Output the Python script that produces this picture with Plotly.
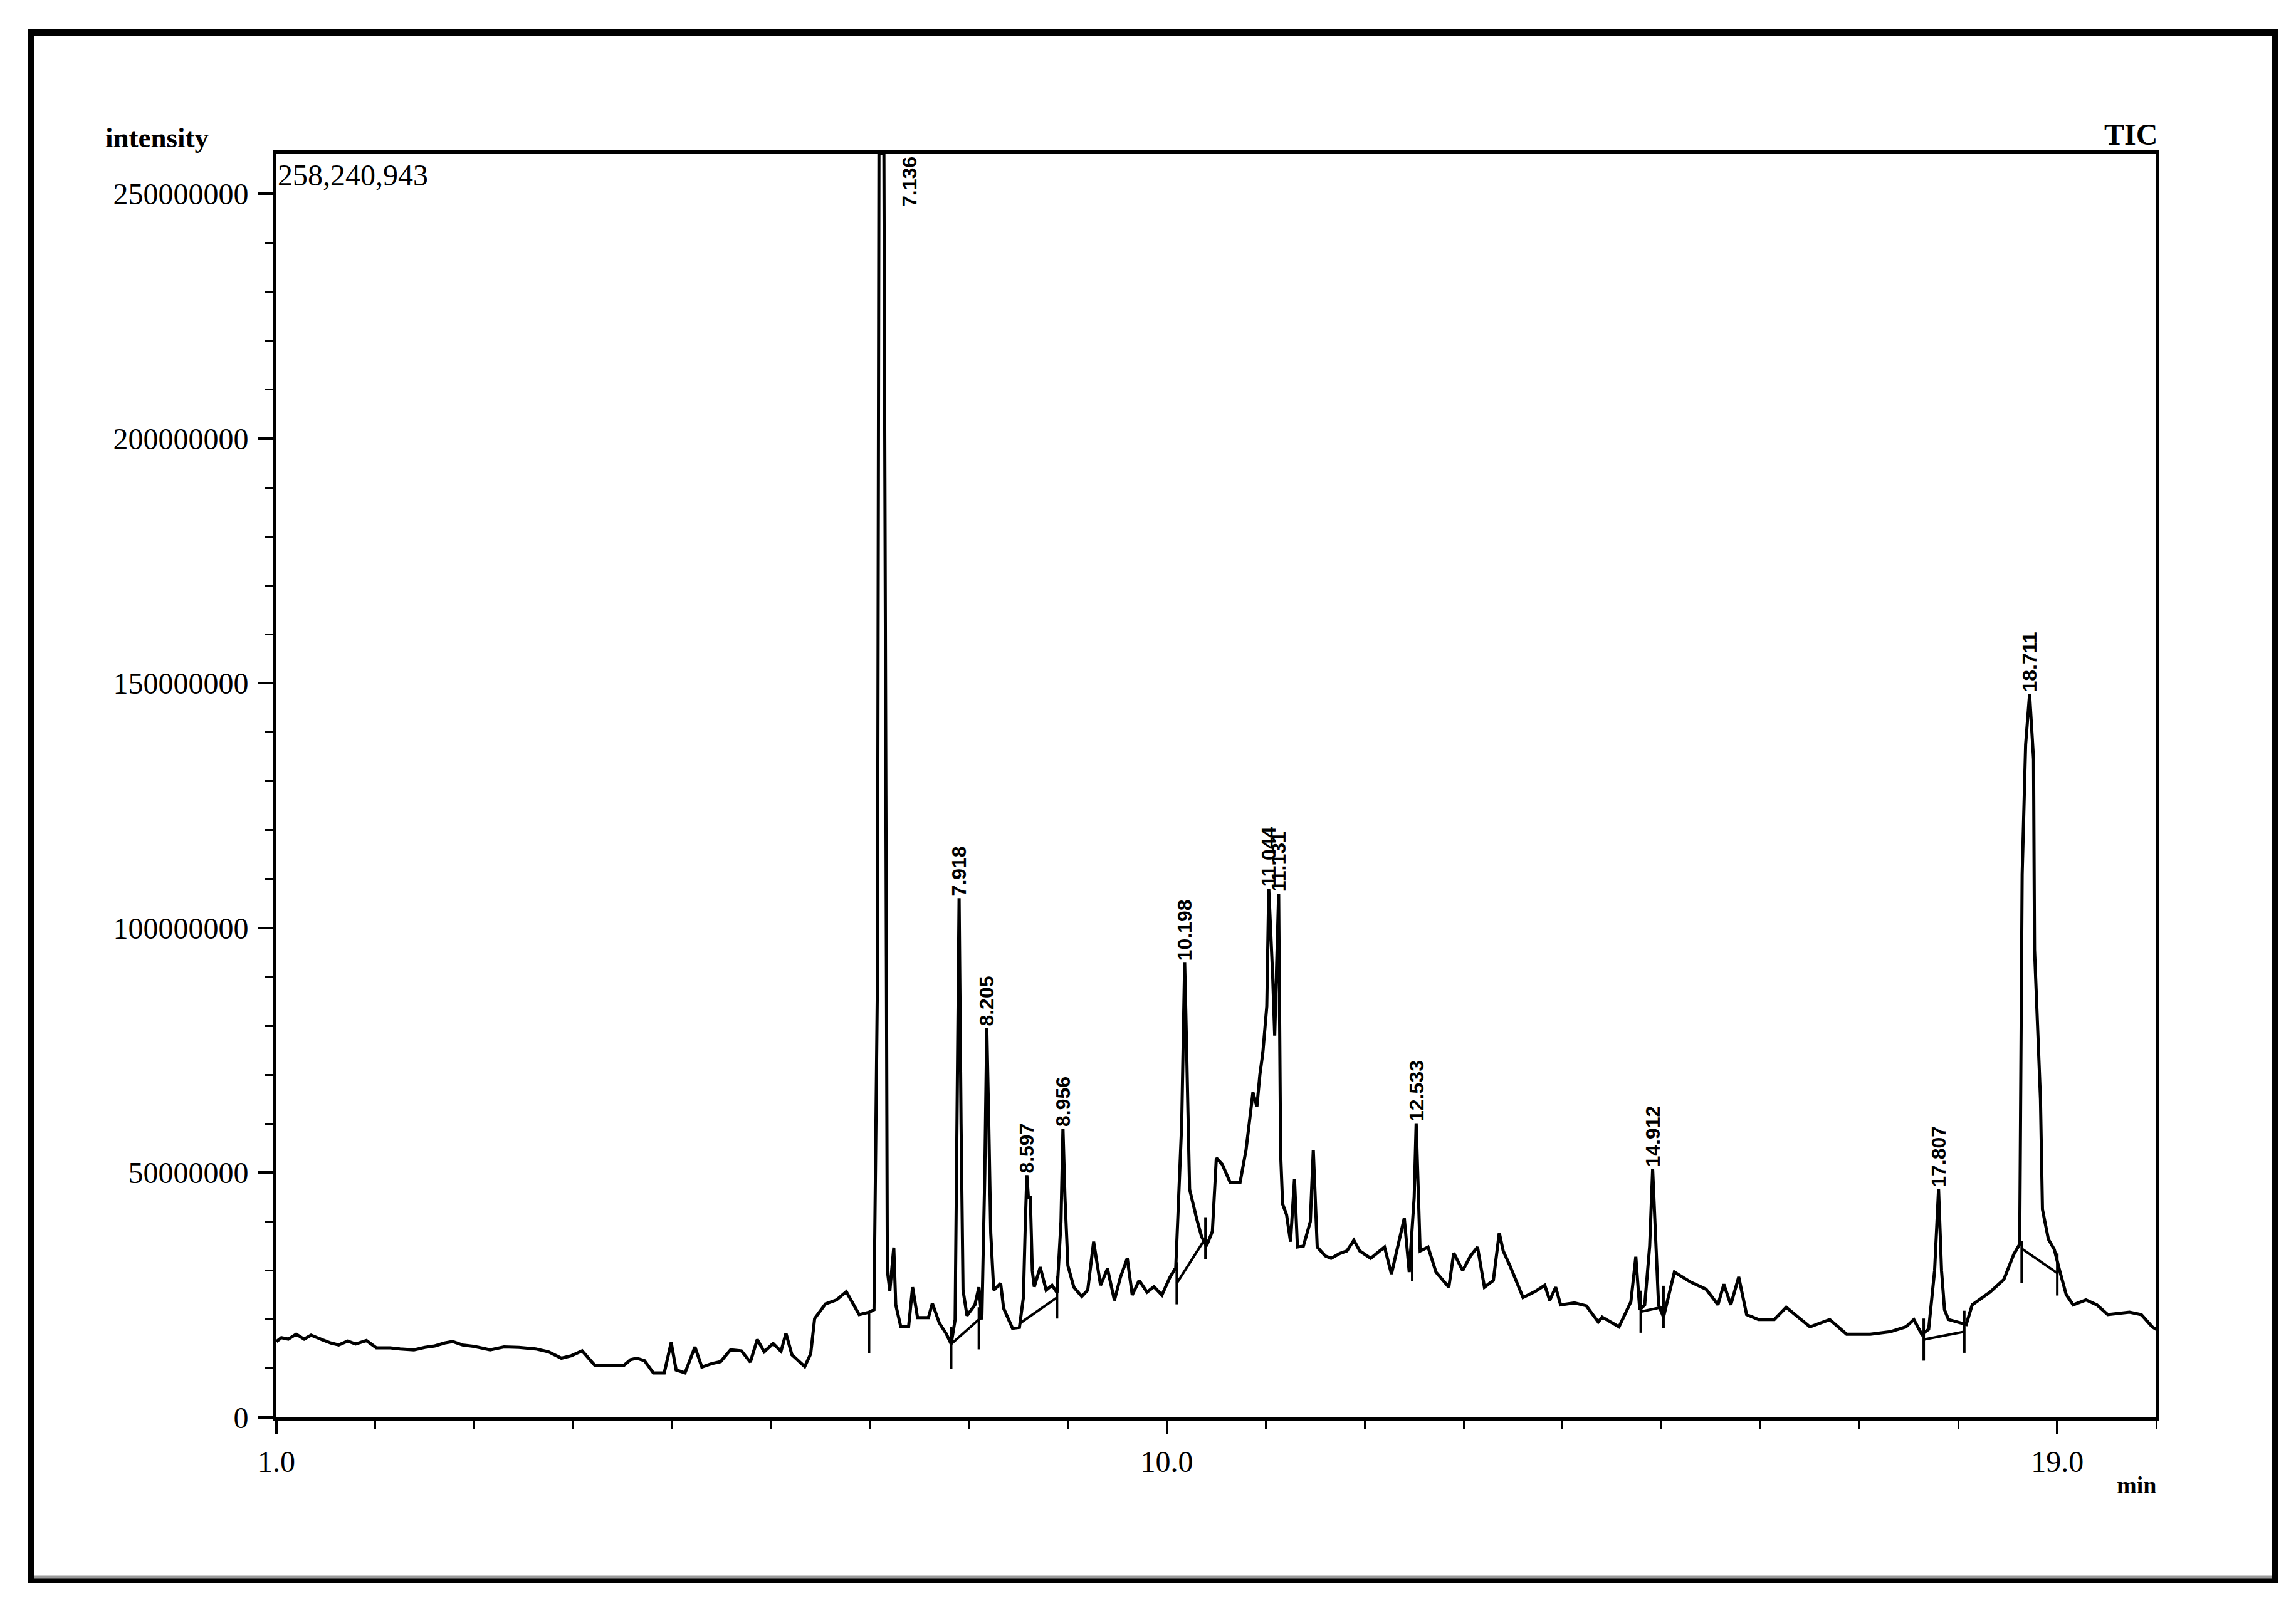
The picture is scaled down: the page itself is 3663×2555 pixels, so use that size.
import plotly.graph_objects as go

# ---------------- data ----------------
rt_min = [
    1.00, 1.05, 1.12, 1.20, 1.28, 1.35, 1.46, 1.55, 1.63, 1.72, 1.80, 1.91, 2.01, 2.15, 2.25, 2.39,
    2.50, 2.60, 2.70, 2.78, 2.88, 3.00, 3.16, 3.30, 3.45, 3.62, 3.75, 3.88, 3.98, 4.09, 4.22, 4.35,
    4.51, 4.58, 4.64, 4.72, 4.81, 4.92, 4.99, 5.04, 5.13, 5.23, 5.30, 5.40, 5.49, 5.59, 5.70, 5.79,
    5.86, 5.93, 6.02, 6.10, 6.15, 6.21, 6.34, 6.40, 6.44, 6.55, 6.66, 6.76, 6.89, 6.99, 7.04, 7.075,
    7.09, 7.14, 7.15, 7.16, 7.175, 7.20, 7.24, 7.26, 7.31, 7.39, 7.43, 7.48, 7.59, 7.63, 7.70, 7.77,
    7.82, 7.86, 7.88, 7.90, 7.92, 7.94, 7.98, 8.06, 8.10, 8.13, 8.16, 8.18, 8.20, 8.22, 8.25, 8.32,
    8.35, 8.44, 8.51, 8.55, 8.57, 8.585, 8.60, 8.62, 8.64, 8.66, 8.72, 8.78, 8.84, 8.89, 8.93, 8.95,
    8.97, 9.00, 9.06, 9.14, 9.20, 9.26, 9.33, 9.40, 9.47, 9.53, 9.60, 9.65, 9.72, 9.80, 9.87, 9.95,
    10.03, 10.09, 10.15, 10.18, 10.20, 10.22, 10.23, 10.30, 10.35, 10.40, 10.46, 10.50, 10.56, 10.64,
    10.74, 10.80, 10.87, 10.91, 10.94, 10.97, 11.01, 11.03, 11.05, 11.07, 11.09, 11.11, 11.13, 11.15,
    11.17, 11.21, 11.25, 11.29, 11.32, 11.38, 11.45, 11.48, 11.52, 11.60, 11.66, 11.75, 11.82, 11.89,
    11.95, 12.06, 12.20, 12.27, 12.34, 12.40, 12.45, 12.50, 12.52, 12.54, 12.56, 12.64, 12.72, 12.85,
    12.90, 12.99, 13.07, 13.14, 13.21, 13.30, 13.36, 13.40, 13.47, 13.60, 13.72, 13.82, 13.87, 13.93,
    13.98, 14.12, 14.24, 14.36, 14.40, 14.57, 14.69, 14.74, 14.78, 14.83, 14.88, 14.91, 14.94, 14.97,
    15.02, 15.13, 15.29, 15.45, 15.57, 15.63, 15.70, 15.78, 15.86, 15.98, 16.14, 16.26, 16.38, 16.50,
    16.70, 16.87, 17.11, 17.31, 17.47, 17.55, 17.63, 17.70, 17.76, 17.80, 17.83, 17.86, 17.90, 18.08,
    18.14, 18.32, 18.46, 18.56, 18.62, 18.645, 18.68, 18.72, 18.76, 18.77, 18.83, 18.85, 18.91, 18.97,
    19.02, 19.09, 19.16, 19.29, 19.40, 19.51, 19.73, 19.85, 19.96, 20.00,
]

intensity = [
    15.5e6, 16.3e6, 16.0e6, 17.0e6, 16.0e6, 16.8e6, 15.9e6, 15.2e6, 14.8e6, 15.6e6, 15.0e6, 15.7e6, 14.2e6, 14.2e6, 14.0e6, 13.8e6,
    14.3e6, 14.6e6, 15.2e6, 15.5e6, 14.8e6, 14.5e6, 13.8e6, 14.4e6, 14.3e6, 14.0e6, 13.4e6, 12.1e6, 12.6e6, 13.6e6, 10.6e6, 10.6e6,
    10.6e6, 11.8e6, 12.1e6, 11.6e6, 9.1e6, 9.1e6, 15.3e6, 9.7e6, 9.1e6, 14.4e6, 10.3e6, 11.0e6, 11.4e6, 13.8e6, 13.6e6, 11.3e6,
    15.9e6, 13.4e6, 15.1e6, 13.5e6, 17.2e6, 12.8e6, 10.4e6, 13.0e6, 20.2e6, 23.2e6, 24.0e6, 25.7e6, 21.0e6, 21.5e6, 22.0e6, 90.0e6,
    258240943, 258240943, 196.0e6, 145.0e6, 30.0e6, 25.9e6, 34.7e6, 23.0e6, 18.6e6, 18.6e6, 26.6e6, 20.4e6, 20.4e6, 23.3e6, 19.3e6, 17.1e6,
    15.0e6, 20.0e6, 60.0e6, 106.1e6, 60.0e6, 26.0e6, 20.8e6, 23.0e6, 26.6e6, 20.0e6, 50.0e6, 79.6e6, 60.0e6, 37.7e6, 26.0e6, 27.4e6,
    22.3e6, 18.2e6, 18.4e6, 24.5e6, 40.0e6, 49.5e6, 45.0e6, 45.0e6, 30.0e6, 26.7e6, 30.7e6, 26.0e6, 27.0e6, 25.5e6, 40.0e6, 59.0e6,
    45.0e6, 31.0e6, 26.6e6, 24.7e6, 26.0e6, 35.9e6, 27.0e6, 30.4e6, 23.9e6, 28.6e6, 32.5e6, 25.0e6, 28.0e6, 25.6e6, 26.7e6, 25.0e6,
    28.6e6, 30.6e6, 60.0e6, 92.9e6, 75.0e6, 51.0e6, 46.6e6, 40.7e6, 37.0e6, 35.0e6, 38.0e6, 53.0e6, 51.7e6, 48.0e6,
    48.0e6, 54.6e6, 66.4e6, 63.5e6, 70.0e6, 74.5e6, 84.0e6, 108.0e6, 100.0e6, 90.0e6, 78.0e6, 95.0e6, 107.0e6, 54.0e6,
    43.6e6, 41.4e6, 35.9e6, 48.7e6, 34.8e6, 35.0e6, 40.0e6, 54.6e6, 34.8e6, 33.0e6, 32.5e6, 33.5e6, 34.0e6, 36.2e6,
    34.0e6, 32.5e6, 34.8e6, 29.3e6, 35.5e6, 40.7e6, 29.7e6, 45.0e6, 60.1e6, 45.0e6, 34.0e6, 34.8e6, 29.7e6, 26.6e6,
    33.6e6, 30.0e6, 33.0e6, 34.8e6, 26.6e6, 28.0e6, 37.7e6, 34.0e6, 30.9e6, 24.5e6, 25.7e6, 27.0e6, 23.9e6, 26.6e6,
    23.0e6, 23.4e6, 22.8e6, 19.5e6, 20.5e6, 18.5e6, 23.6e6, 32.8e6, 22.0e6, 23.0e6, 35.0e6, 50.7e6, 35.0e6, 23.0e6,
    20.5e6, 29.7e6, 27.7e6, 26.2e6, 23.0e6, 27.2e6, 23.0e6, 28.7e6, 21.0e6, 20.0e6, 20.0e6, 22.5e6, 20.5e6, 18.5e6,
    20.0e6, 17.0e6, 17.0e6, 17.5e6, 18.5e6, 20.0e6, 17.0e6, 18.0e6, 30.0e6, 46.6e6, 30.0e6, 22.0e6, 20.0e6, 19.0e6,
    23.0e6, 25.6e6, 28.2e6, 33.3e6, 35.4e6, 111.0e6, 137.5e6, 147.8e6, 134.5e6, 95.6e6, 65.0e6, 42.5e6, 36.4e6, 34.3e6,
    30.3e6, 25.1e6, 23.0e6, 24.0e6, 23.0e6, 21.0e6, 21.5e6, 21.0e6, 18.5e6, 18.0e6,
]

# peak labels (retention times printed above peaks)
peak_labels = ["7.136", "7.918", "8.205", "8.597", "8.956", "10.198", "11.044", "11.131",
               "12.533", "14.912", "17.807", "18.711"]
peak_label_x = [7.40, 7.90, 8.18, 8.585, 8.95, 10.18, 11.03, 11.13, 12.52, 14.91, 17.80, 18.72]
peak_label_y = [247e6, 106.1e6, 79.6e6, 49.5e6, 59.0e6, 92.9e6, 108.0e6, 107.0e6, 60.1e6, 50.7e6, 46.6e6, 147.8e6]

# integration markers (peak start / end ticks)
mark_x = [6.99, 7.82, 8.10, 8.89, 10.10, 10.39, 12.48, 14.79, 15.02, 17.65, 18.06, 18.64, 19.00]
mark_y = [17.4e6, 14.2e6, 18.2e6, 24.5e6, 27.4e6, 36.6e6, 32.2e6, 21.6e6, 22.6e6, 15.9e6, 17.5e6, 31.8e6, 29.2e6]

# integration baselines (start, end)
base_x0 = [7.82, 8.52, 10.10, 14.79, 17.65, 18.64]
base_y0 = [15.0e6, 19.3e6, 27.4e6, 21.6e6, 15.9e6, 34.5e6]
base_x1 = [8.10, 8.89, 10.39, 15.02, 18.06, 19.00]
base_y1 = [20.0e6, 24.5e6, 36.6e6, 22.6e6, 17.5e6, 29.5e6]

y_top = 258240943
y_tick_vals = [0, 50000000, 100000000, 150000000, 200000000, 250000000]
y_tick_text = ["0", "50000000", "100000000", "150000000", "200000000", "250000000"]
x_tick_vals = [1.0, 10.0, 19.0]
x_tick_text = ["1.0", "10.0", "19.0"]

# ---------------- figure ----------------
W, H = 3663, 2555
L, R, T, B = 433, 231, 237, 301
pw, ph = W - L - R, H - T - B

def px(xf):
    return (xf - L) / pw

def py(yf):
    return (H - B - yf) / ph

fig = go.Figure()

fig.add_trace(go.Scatter(x=rt_min, y=intensity, mode="lines",
                         line=dict(color="black", width=5), hoverinfo="skip",
                         showlegend=False, cliponaxis=True))

bx, by = [], []
for a, b, c, d in zip(base_x0, base_y0, base_x1, base_y1):
    bx += [a, c, None]
    by += [b, d, None]
fig.add_trace(go.Scatter(x=bx, y=by, mode="lines", line=dict(color="black", width=4),
                         showlegend=False, hoverinfo="skip"))

fig.add_trace(go.Scatter(x=mark_x, y=mark_y, mode="markers",
                         marker=dict(symbol="line-ns", size=48, color="black",
                                     line=dict(color="black", width=4)),
                         showlegend=False, hoverinfo="skip"))

for lab, lx, ly in zip(peak_labels, peak_label_x, peak_label_y):
    fig.add_annotation(x=lx, y=ly, xref="x", yref="y", text="<b>" + lab + "</b>", showarrow=False,
                       textangle=-90, xanchor="center", yanchor="bottom", yshift=2,
                       font=dict(family="Liberation Sans", size=32, color="black"),
                       borderpad=0)

serif = "Liberation Serif"

fig.add_annotation(x=px(243), y=py(212), xref="paper", yref="paper", text="<b>intensity</b>",
                   showarrow=False, xanchor="center", yanchor="middle",
                   font=dict(family=serif, size=45, color="black"))
fig.add_annotation(x=px(434), y=py(244), xref="paper", yref="paper", text="258,240,943",
                   showarrow=False, xanchor="left", yanchor="top",
                   font=dict(family=serif, size=48, color="black"), borderpad=0)
fig.add_annotation(x=px(3436), y=py(206), xref="paper", yref="paper", text="<b>TIC</b>",
                   showarrow=False, xanchor="right", yanchor="middle",
                   font=dict(family=serif, size=48, color="black"))
fig.add_annotation(x=px(3434), y=py(2362), xref="paper", yref="paper", text="<b>min</b>",
                   showarrow=False, xanchor="right", yanchor="middle",
                   font=dict(family=serif, size=38, color="black"))

# outer frame
fig.add_shape(type="rect", xref="paper", yref="paper",
              x0=px(42), x1=px(3621), y0=py(2513), y1=py(44),
              line=dict(color="black", width=10), fillcolor="rgba(0,0,0,0)", layer="above")
fig.add_shape(type="line", xref="paper", yref="paper",
              x0=px(47), x1=px(3616), y0=py(2509), y1=py(2509),
              line=dict(color="#9a9a9a", width=5), layer="above")

fig.update_layout(
    width=W, height=H,
    margin=dict(l=L, r=R, t=T, b=B, pad=0),
    paper_bgcolor="white", plot_bgcolor="white",
    showlegend=False,
    font=dict(family=serif, color="black"),
)

fig.update_xaxes(range=[1.0, 20.0], showgrid=False, zeroline=False,
                 showline=True, linecolor="black", linewidth=5, mirror=True,
                 ticks="outside", ticklen=22, tickwidth=4, tickcolor="black",
                 tickvals=x_tick_vals, ticktext=x_tick_text,
                 tickfont=dict(family=serif, size=48, color="black"),
                 ticklabelstandoff=2,
                 minor=dict(tick0=1, dtick=1, ticks="outside", ticklen=14, tickwidth=3,
                            tickcolor="black", showgrid=False))

fig.update_yaxes(range=[0, y_top], showgrid=False, zeroline=False,
                 showline=True, linecolor="black", linewidth=5, mirror=True,
                 ticks="outside", ticklen=24, tickwidth=4, tickcolor="black",
                 tickvals=y_tick_vals, ticktext=y_tick_text,
                 tickfont=dict(family=serif, size=48, color="black"),
                 ticklabelstandoff=6,
                 minor=dict(tick0=0, dtick=10000000, ticks="outside", ticklen=14, tickwidth=3,
                            tickcolor="black", showgrid=False))

fig.write_html("out.html")
